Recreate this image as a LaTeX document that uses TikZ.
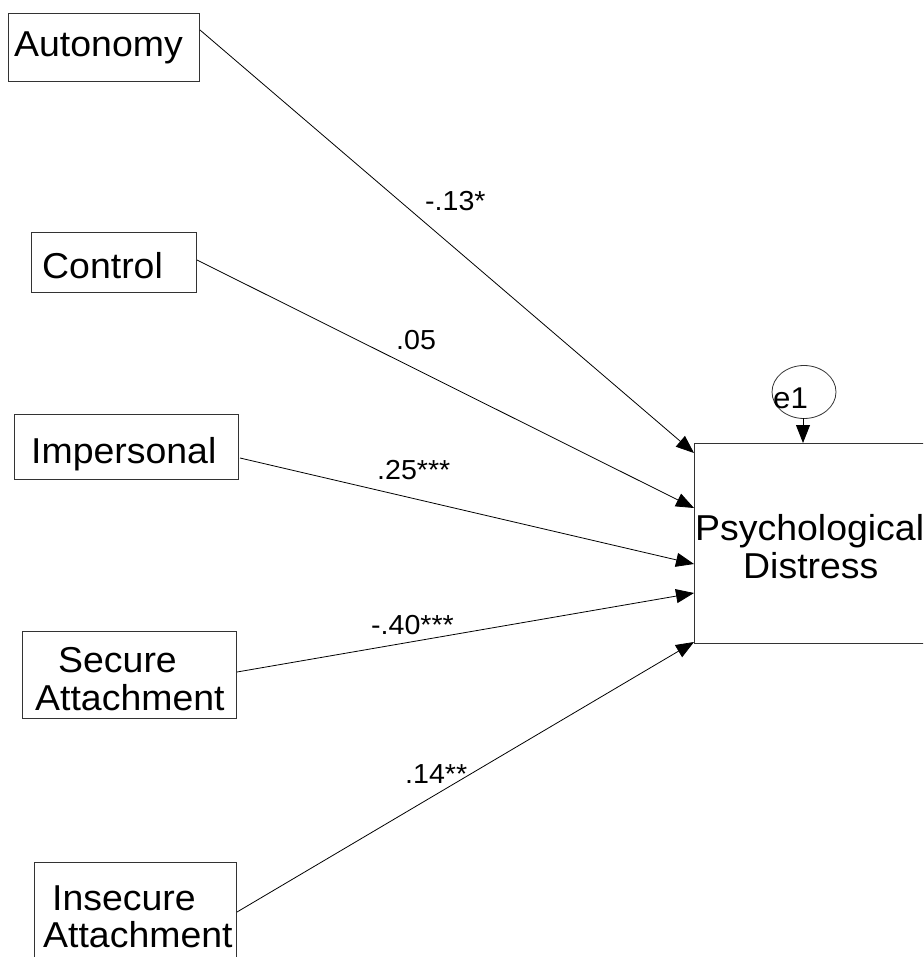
\documentclass[tikz,border=0pt]{standalone}
\usepackage{fontspec}
\usetikzlibrary{arrows.meta,shapes.geometric}
\newfontfamily\boxfont[FakeStretch=1.04]{Liberation Sans}
\begin{document}
\begin{tikzpicture}[x=1pt,y=-1pt,
  varbox/.style={draw=black!80, line width=0.9pt, anchor=north west, inner sep=0pt},
  vartext/.style={anchor=base west, inner sep=0pt, font=\boxfont\fontsize{36}{42}\selectfont},
  coef/.style={anchor=base west, inner sep=0pt, font=\boxfont\fontsize{27.5}{31}\selectfont},
  errtext/.style={anchor=base west, inner sep=0pt, font=\boxfont\fontsize{30}{34}\selectfont},
  path/.style={line width=0.8pt, -{Triangle[length=18pt,width=14pt]}}]
\clip (0,0) rectangle (923,957);
\fill[white] (0,0) rectangle (923,957);

% observed predictors
\node[varbox, minimum width=191pt, minimum height=68pt] (aut) at (8,13) {};
\node[vartext] (autT) at (14,57) {Autonomy};
\node[varbox, minimum width=165pt, minimum height=60pt] (con) at (31,232) {};
\node[vartext] (conT) at (42,279) {Control};
\node[varbox, minimum width=224pt, minimum height=65pt] (imp) at (14,414) {};
\node[vartext] (impT) at (31,463) {Impersonal};
\node[varbox, minimum width=214pt, minimum height=87pt] (sec) at (22,631) {};
\node[vartext] (secT1) at (58,672) {Secure};
\node[vartext] (secT2) at (35,710) {Attachment};
\node[varbox, minimum width=202pt, minimum height=120pt] (ins) at (34,862) {};
\node[vartext] (insT1) at (52,910) {Insecure};
\node[vartext] (insT2) at (43,947) {Attachment};

% outcome and its error term
\node[varbox, minimum width=260pt, minimum height=200pt] (psy) at (694,443) {};
\node[vartext] (psyT1) at (695,540) {Psychological};
\node[vartext] (psyT2) at (743,578) {Distress};
\node[draw=black!80, line width=0.8pt, ellipse, minimum width=64pt, minimum height=53pt, inner sep=0pt] (e1) at (804,392) {};
\node[errtext] (e1T) at (773,408) {e1};

% path start and end points on the box edges
\coordinate (autOut) at (200,30);
\coordinate (conOut) at (197,260);
\coordinate (impOut) at (240,458);
\coordinate (secOut) at (237,672);
\coordinate (insOut) at (237,912);
\coordinate (psyA) at (694,453);
\coordinate (psyC) at (694,508);
\coordinate (psyI) at (694,564);
\coordinate (psyS) at (694,593);
\coordinate (psyN) at (694,642);
\coordinate (psyTop) at (803,443);
\coordinate (e1Bot) at (803,418);

\draw[path] (autOut) -- (psyA);
\draw[path] (conOut) -- (psyC);
\draw[path] (impOut) -- (psyI);
\draw[path] (secOut) -- (psyS);
\draw[path] (insOut) -- (psyN);
\draw[path] (e1Bot) -- (psyTop);

% path coefficients
\node[coef] (cA) at (425,211) {-.13*};
\node[coef] (cC) at (396,349) {.05};
\node[coef] (cI) at (377,479) {.25***};
\node[coef] (cS) at (371,634) {-.40***};
\node[coef] (cN) at (405,783) {.14**};
\end{tikzpicture}
\end{document}
